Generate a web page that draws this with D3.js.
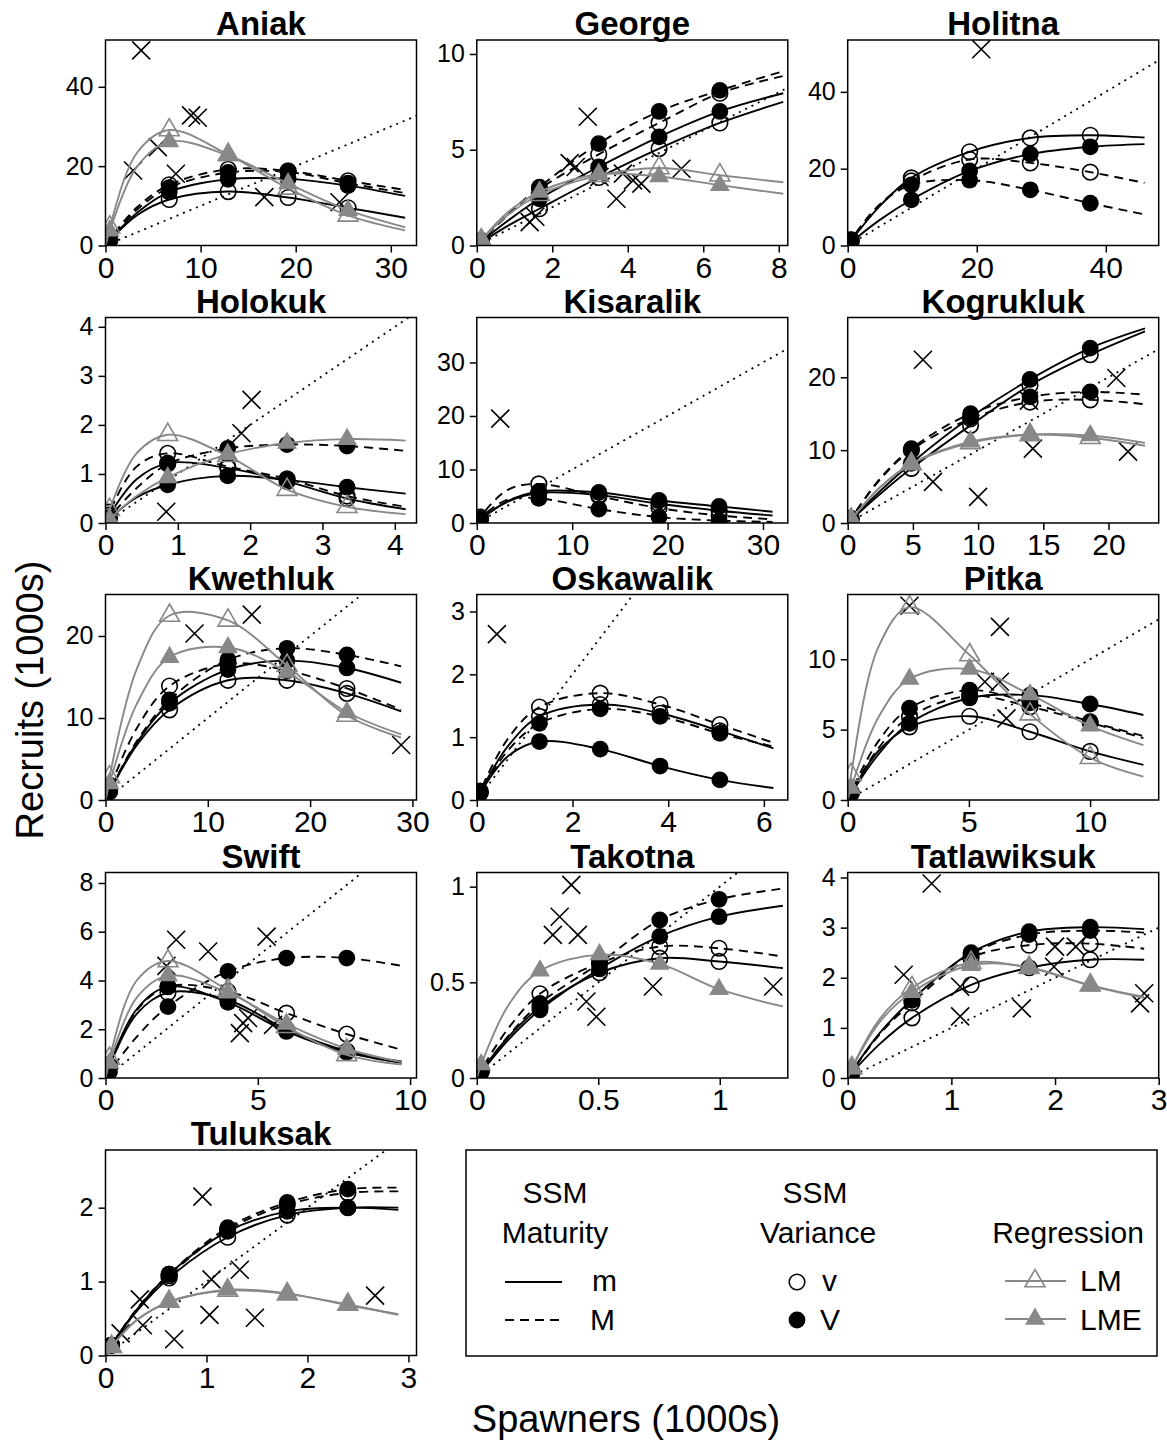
<!DOCTYPE html>
<html>
<head>
<meta charset="utf-8">
<script src="https://cdn.jsdelivr.net/npm/d3@7"></script>
<style>
  body { margin: 0; background: #fff; }
  text { font-family: "Liberation Sans", Arial, sans-serif; }
</style>
</head>
<body>
<div id="chart"></div>
<script>
// ---------- data ----------
const rivers = ["Aniak", "George", "Holitna", "Holokuk", "Kisaralik", "Kogrukluk", "Kwethluk",
  "Oskawalik", "Pitka", "Swift", "Takotna", "Tatlawiksuk", "Tuluksak"];

const xMax = [32.7, 8.24, 48.2, 4.3, 32.6, 23.85, 30.4, 6.5, 12.83, 10.21, 1.28, 3.0, 3.08];
const yMax = [51.8, 10.73, 53.5, 4.19, 38.4, 28.2, 25.06, 3.27, 14.6, 8.43, 1.074, 4.1, 2.78];

const xTicks = [[0, 10, 20, 30], [0, 2, 4, 6, 8], [0, 20, 40], [0, 1, 2, 3, 4], [0, 10, 20, 30],
  [0, 5, 10, 15, 20], [0, 10, 20, 30], [0, 2, 4, 6], [0, 5, 10], [0, 5, 10], [0, 0.5, 1],
  [0, 1, 2, 3], [0, 1, 2, 3]];
const yTicks = [[0, 20, 40], [0, 5, 10], [0, 20, 40], [0, 1, 2, 3, 4], [0, 10, 20, 30],
  [0, 10, 20], [0, 10, 20], [0, 1, 2, 3], [0, 5, 10], [0, 2, 4, 6, 8], [0, 0.5, 1],
  [0, 1, 2, 3, 4], [0, 1, 2]];

// spawner values at which the fitted curves were read
const spawners = [
  [0, 0.45, 3.35, 6.7, 12.9, 19.2, 25.5, 31.5],
  [0, 0.12, 0.83, 1.66, 3.23, 4.83, 6.44, 8.12],
  [0, 0.53, 4.93, 9.86, 18.9, 28.3, 37.6, 46],
  [0, 0.055, 0.43, 0.86, 1.69, 2.51, 3.34, 4.15],
  [0, 0.36, 3.25, 6.5, 12.8, 19.1, 25.4, 31.0],
  [0, 0.26, 2.44, 4.88, 9.42, 13.98, 18.6, 22.8],
  [0, 0.39, 3.13, 6.26, 11.97, 17.74, 23.6, 28.9],
  [0, 0.07, 0.655, 1.31, 2.58, 3.83, 5.08, 6.2],
  [0, 0.14, 1.275, 2.55, 5.03, 7.52, 10.0, 12.2],
  [0, 0.13, 1.025, 2.05, 4.02, 5.94, 7.92, 9.72],
  [0, 0.018, 0.13, 0.26, 0.505, 0.753, 0.997, 1.26],
  [0, 0.04, 0.31, 0.62, 1.19, 1.75, 2.34, 2.86],
  [0, 0.06, 0.31, 0.63, 1.21, 1.8, 2.4, 2.9]
];
// which of those spawner values carry a plotting symbol
const markerIdx = [1, 3, 4, 5, 6];

// SSM maturity m, variance v
const rec_m_v = [
  [0, 1.3, 7.7, 11.6, 13.6, 12.1, 9.5, 7.0],
  [0, 0.16, 1.04, 1.92, 3.55, 5.06, 6.4, 7.5],
  [0, 1.27, 10.2, 17.6, 24.4, 28.0, 28.7, 28.1],
  [0, 0.16, 0.89, 1.22, 1.12, 0.85, 0.5, 0.28],
  [0, 0.61, 4.0, 5.6, 5.2, 3.6, 2.3, 1.4],
  [0, 0.43, 3.9, 7.5, 13.4, 18.9, 23.1, 26.3],
  [0, 1.02, 6.8, 11.0, 14.6, 14.6, 13.0, 10.8],
  [0, 0.12, 0.86, 1.33, 1.52, 1.38, 1.1, 0.82],
  [0, 0.5, 3.5, 5.2, 5.95, 4.85, 3.45, 2.5],
  [0, 0.48, 2.63, 3.5, 3.2, 2.0, 1.1, 0.68],
  [0, 0.035, 0.215, 0.37, 0.55, 0.626, 0.609, 0.574],
  [0, 0.1, 0.68, 1.2, 1.86, 2.2, 2.36, 2.36],
  [0, 0.14, 0.6, 1.05, 1.6, 1.9, 2.0, 2.0]
];
// SSM maturity m, variance V
const rec_m_V = [
  [0, 1.34, 8.3, 13.5, 16.7, 16.8, 15.1, 12.5],
  [0, 0.2, 1.3, 2.44, 4.1, 5.67, 7.0, 7.95],
  [0, 0.8, 6.6, 11.9, 19.4, 23.8, 25.7, 26.4],
  [0, 0.085, 0.52, 0.78, 0.96, 0.88, 0.73, 0.6],
  [0, 0.6, 4.1, 5.9, 5.7, 4.2, 3.1, 2.1],
  [0, 0.47, 4.3, 8.2, 14.5, 19.7, 24.0, 26.7],
  [0, 1.04, 7.1, 11.8, 15.9, 17.0, 16.1, 14.3],
  [0, 0.11, 0.7, 0.93, 0.81, 0.54, 0.32, 0.19],
  [0, 0.43, 3.26, 5.45, 7.25, 7.45, 6.82, 6.04],
  [0, 0.51, 2.82, 3.75, 3.1, 1.91, 1.05, 0.62],
  [0, 0.03, 0.2, 0.356, 0.57, 0.74, 0.843, 0.9],
  [0, 0.13, 0.9, 1.56, 2.5, 2.92, 3.01, 2.97],
  [0, 0.14, 0.62, 1.1, 1.68, 1.95, 2.0, 1.97]
];
// SSM maturity M, variance v
const rec_M_v = [
  [0, 1.6, 9.7, 15.3, 19.2, 18.8, 16.3, 14.0],
  [0, 0.25, 1.6, 2.95, 4.76, 6.4, 7.95, 8.85],
  [0, 1.4, 10.5, 16.8, 22.4, 21.5, 19.1, 16.3],
  [0, 0.22, 1.15, 1.42, 1.15, 0.9, 0.55, 0.33],
  [0, 1.1, 6.2, 7.3, 5.0, 2.8, 1.4, 0.7],
  [0, 0.62, 5.9, 10.0, 14.3, 16.6, 16.9, 16.3],
  [0, 1.36, 8.9, 13.9, 16.6, 15.8, 13.6, 11.0],
  [0, 0.14, 0.98, 1.48, 1.7, 1.52, 1.2, 0.91],
  [0, 0.51, 3.7, 5.9, 7.4, 6.63, 5.5, 4.4],
  [0, 0.49, 2.77, 3.75, 3.55, 2.66, 1.8, 1.16],
  [0, 0.042, 0.26, 0.44, 0.6, 0.687, 0.678, 0.635],
  [0, 0.13, 0.88, 1.5, 2.4, 2.65, 2.68, 2.58],
  [0, 0.14, 0.62, 1.08, 1.7, 2.04, 2.2, 2.22]
];
// SSM maturity M, variance V
const rec_M_V = [
  [0, 1.5, 9.1, 14.6, 18.4, 18.5, 15.7, 13.2],
  [0, 0.26, 1.65, 3.05, 5.32, 7.0, 8.1, 9.1],
  [0, 1.5, 10.6, 15.8, 17.0, 14.5, 11.0, 8.1],
  [0, 0.11, 0.71, 1.2, 1.52, 1.6, 1.57, 1.47],
  [0, 0.87, 4.4, 4.6, 2.6, 1.1, 0.45, 0.2],
  [0, 0.63, 6.0, 10.2, 15.0, 17.3, 18.0, 17.6],
  [0, 1.07, 7.3, 12.2, 17.1, 18.5, 17.7, 16.3],
  [0, 0.11, 0.79, 1.22, 1.45, 1.33, 1.06, 0.85],
  [0, 0.58, 4.2, 6.52, 7.8, 6.9, 5.57, 4.55],
  [0, 0.25, 1.69, 2.93, 4.37, 4.92, 4.92, 4.6],
  [0, 0.033, 0.22, 0.39, 0.6, 0.826, 0.934, 0.99],
  [0, 0.13, 0.88, 1.55, 2.48, 2.86, 2.94, 2.9],
  [0, 0.14, 0.63, 1.1, 1.73, 2.07, 2.25, 2.27]
];
// regression fits (null = not shown for that river)
const rec_LM = [
  [0, 4.6, 23.5, 29.1, 22.9, 14.4, 7.6, 3.8],
  [0, 0.28, 1.6, 2.65, 3.65, 4.05, 3.67, 3.3],
  null,
  [0, 0.27, 1.42, 1.8, 1.37, 0.68, 0.33, 0.18],
  null,
  [0, 0.5, 4.8, 8.1, 11.0, 12.1, 11.7, 10.6],
  [0, 2.8, 16.2, 22.5, 21.9, 16.4, 10.3, 7.6],
  null,
  [0, 1.8, 10.9, 13.7, 10.3, 6.1, 3.0, 1.66],
  [0, 0.8, 4.0, 4.8, 3.6, 2.1, 0.95, 0.55],
  null,
  [0, 0.2, 1.18, 1.8, 2.3, 2.2, 1.85, 1.6],
  [0, 0.12, 0.48, 0.73, 0.88, 0.83, 0.69, 0.55]
];
const rec_LME = [
  [0, 3.7, 20.0, 26.2, 22.7, 15.6, 8.9, 4.6],
  [0, 0.3, 1.75, 2.8, 3.72, 3.6, 3.15, 2.7],
  null,
  [0, 0.08, 0.55, 0.93, 1.4, 1.63, 1.71, 1.68],
  null,
  [0, 0.5, 4.85, 8.15, 11.15, 12.15, 12.0, 11.0],
  [0, 2.0, 11.9, 17.4, 18.6, 15.6, 10.7, 8.0],
  null,
  [0, 0.86, 5.9, 8.6, 9.3, 7.5, 5.27, 3.9],
  [0, 0.62, 3.3, 4.2, 3.5, 2.22, 1.2, 0.65],
  [0, 0.07, 0.38, 0.56, 0.645, 0.596, 0.464, 0.374],
  [0, 0.19, 1.12, 1.71, 2.25, 2.21, 1.84, 1.62],
  [0, 0.12, 0.48, 0.72, 0.89, 0.84, 0.68, 0.56]
];

// observed spawner-recruit pairs (crosses)
const obsSpawners = [
  [3.75, 2.9, 5.5, 7.4, 9.0, 9.7, 16.7, 24.6],
  [2.94, 2.46, 2.62, 1.4, 1.55, 3.25, 3.7, 3.87, 4.14, 4.36, 5.42],
  [20.7],
  [2.02, 1.88, 0.84],
  [2.46],
  [5.77, 6.54, 10.0, 13.9, 14.2, 20.6, 21.5],
  [8.7, 14.3, 28.9],
  [0.42],
  [2.55, 6.28, 5.66, 6.28, 6.55],
  [2.32, 2.0, 3.37, 5.29, 4.52, 4.41, 4.68, 5.5],
  [0.389, 0.341, 0.313, 0.416, 0.451, 0.492, 0.725, 1.22],
  [0.81, 0.54, 1.085, 1.085, 1.68, 2.0, 1.99, 2.2, 2.86, 2.82],
  [0.15, 0.37, 0.34, 0.68, 0.96, 1.05, 1.03, 1.33, 1.48, 2.67]
];
const obsRecruits = [
  [49.2, 18.9, 24.8, 18.1, 32.8, 32.2, 12.2, 10.9],
  [6.72, 4.3, 4.1, 1.22, 1.5, 3.58, 2.44, 3.75, 3.4, 3.23, 4.01],
  [51.1],
  [2.51, 1.83, 0.23],
  [19.5],
  [22.4, 5.64, 3.58, 16.8, 10.2, 19.9, 9.8],
  [20.3, 22.6, 6.7],
  [2.64],
  [13.8, 12.3, 8.4, 8.4, 5.8],
  [5.67, 4.6, 5.19, 5.8, 2.25, 1.84, 2.46, 2.18],
  [1.009, 0.843, 0.748, 0.748, 0.4, 0.32, 0.478, 0.478],
  [3.88, 2.06, 1.82, 1.23, 1.39, 2.62, 2.22, 2.62, 1.69, 1.49],
  [0.3, 0.41, 0.76, 0.22, 2.15, 1.03, 0.55, 1.16, 0.51, 0.81]
];

// ---------- layout ----------
const colLeft = [105.5, 476.8, 847.7];
const rowTop = [40, 317.5, 594.5, 872.5, 1150];
const plotW = 311;
const plotH = 205.5;
const gray = '#888888';

// draw one plotting symbol, R style
function drawSymbol(g, type, cx, cy, color) {
  const R = 7.4;
  const tri = `M0,${-1.555 * R}L${1.347 * R},${0.778 * R}L${-1.347 * R},${0.778 * R}Z`;
  if (type === 'openCircle') {
    g.append('circle').attr('cx', cx).attr('cy', cy).attr('r', 7.8)
      .attr('fill', 'none').attr('stroke', color).attr('stroke-width', 1.6);
  } else if (type === 'filledCircle') {
    g.append('circle').attr('cx', cx).attr('cy', cy).attr('r', 8.4).attr('fill', color);
  } else if (type === 'openTri') {
    g.append('path').attr('d', tri).attr('transform', `translate(${cx},${cy})`)
      .attr('fill', 'none').attr('stroke', color).attr('stroke-width', 1.6);
  } else if (type === 'filledTri') {
    g.append('path').attr('d', tri).attr('transform', `translate(${cx},${cy})`)
      .attr('fill', color);
  } else if (type === 'cross') {
    g.append('path').attr('d', 'M-9,-9L9,9M-9,9L9,-9')
      .attr('transform', `translate(${cx},${cy})`)
      .attr('stroke', color).attr('stroke-width', 1.6).attr('fill', 'none');
  }
}

function smallMultiples() {
  const svg = d3.select('#chart').append('svg')
    .attr('width', 1167)
    .attr('height', 1444);

  svg.append('rect').attr('width', 1167).attr('height', 1444).attr('fill', 'white');

  const fits = [
    { rec: rec_m_v, color: 'black', dash: null, sym: 'openCircle' },
    { rec: rec_m_V, color: 'black', dash: null, sym: 'filledCircle' },
    { rec: rec_M_v, color: 'black', dash: '9,6', sym: 'openCircle' },
    { rec: rec_M_V, color: 'black', dash: '9,6', sym: 'filledCircle' },
    { rec: rec_LM, color: gray, dash: null, sym: 'openTri' },
    { rec: rec_LME, color: gray, dash: null, sym: 'filledTri' }
  ];

  rivers.forEach((river, i) => {
    const left = colLeft[i % 3];
    const top = rowTop[Math.floor(i / 3)];

    const x = d3.scaleLinear().domain([0, xMax[i]]).range([0, plotW]);
    const y = d3.scaleLinear().domain([0, yMax[i]]).range([plotH, 0]);

    const g = svg.append('g').attr('transform', `translate(${left},${top})`);

    g.append('clipPath').attr('id', `clip${i}`)
      .append('rect').attr('width', plotW).attr('height', plotH);

    // axes
    const yAxis = g.append('g')
      .call(d3.axisLeft(y).tickValues(yTicks[i]).tickSize(7).tickPadding(5).tickFormat(d => d));
    const xAxis = g.append('g').attr('transform', `translate(0,${plotH})`)
      .call(d3.axisBottom(x).tickValues(xTicks[i]).tickSize(7).tickPadding(4).tickFormat(d => d));
    [yAxis, xAxis].forEach(a => {
      a.select('.domain').remove();
      a.selectAll('.tick line').attr('stroke', 'black').attr('stroke-width', 1.5);
      a.selectAll('.tick text').attr('fill', 'black');
    });
    yAxis.selectAll('.tick text').style('font-size', '25px');
    xAxis.selectAll('.tick text').style('font-size', '30px');

    // panel title
    g.append('text')
      .attr('x', plotW / 2)
      .attr('y', -5)
      .attr('text-anchor', 'middle')
      .style('font-size', '33px')
      .style('font-weight', 'bold')
      .text(river);

    const inner = g.append('g').attr('clip-path', `url(#clip${i})`);

    // replacement line
    const lim = Math.max(xMax[i], yMax[i]);
    inner.append('line')
      .attr('x1', x(0)).attr('y1', y(0))
      .attr('x2', x(lim)).attr('y2', y(lim))
      .attr('stroke', 'black').attr('stroke-width', 1.8)
      .attr('stroke-dasharray', '2,5');

    // observations
    obsSpawners[i].forEach((s, k) => {
      drawSymbol(inner, 'cross', x(s), y(obsRecruits[i][k]), 'black');
    });

    // fitted curves and their symbols
    const line = d3.line()
      .x(d => x(d[0]))
      .y(d => y(d[1]))
      .curve(d3.curveCatmullRom.alpha(0.5));

    fits.forEach(f => {
      const rec = f.rec[i];
      if (!rec) return;
      const pts = spawners[i].map((s, k) => [s, rec[k]]);
      inner.append('path')
        .attr('d', line(pts))
        .attr('fill', 'none')
        .attr('stroke', f.color)
        .attr('stroke-width', 1.9)
        .attr('stroke-dasharray', f.dash);
      markerIdx.forEach(k => drawSymbol(inner, f.sym, x(pts[k][0]), y(pts[k][1]), f.color));
    });

    // box
    g.append('rect')
      .attr('width', plotW).attr('height', plotH)
      .attr('fill', 'none').attr('stroke', 'black').attr('stroke-width', 1.5);
  });

  // axis titles
  svg.append('text')
    .attr('transform', 'translate(43,700) rotate(-90)')
    .attr('text-anchor', 'middle')
    .style('font-size', '38px')
    .text('Recruits (1000s)');

  svg.append('text')
    .attr('x', 626).attr('y', 1432)
    .attr('text-anchor', 'middle')
    .style('font-size', '38px')
    .text('Spawners (1000s)');

  // ---------- legend ----------
  const lg = svg.append('g');
  lg.append('rect')
    .attr('x', 466).attr('y', 1150).attr('width', 691).attr('height', 206)
    .attr('fill', 'white').attr('stroke', 'black').attr('stroke-width', 1.5);

  const legendText = (tx, ty, label, anchor) => lg.append('text')
    .attr('x', tx).attr('y', ty)
    .attr('text-anchor', anchor)
    .attr('dominant-baseline', 'central')
    .style('font-size', '30px')
    .text(label);

  legendText(555, 1192, 'SSM', 'middle');
  legendText(555, 1232, 'Maturity', 'middle');
  legendText(815, 1192, 'SSM', 'middle');
  legendText(818, 1232, 'Variance', 'middle');
  legendText(1068, 1232, 'Regression', 'middle');

  lg.append('line').attr('x1', 505).attr('x2', 562).attr('y1', 1282).attr('y2', 1282)
    .attr('stroke', 'black').attr('stroke-width', 1.9);
  legendText(592, 1280, 'm', 'start');
  lg.append('line').attr('x1', 505).attr('x2', 562).attr('y1', 1320).attr('y2', 1320)
    .attr('stroke', 'black').attr('stroke-width', 1.9).attr('stroke-dasharray', '9,6');
  legendText(590, 1319, 'M', 'start');

  drawSymbol(lg, 'openCircle', 797, 1282, 'black');
  legendText(822, 1280, 'v', 'start');
  drawSymbol(lg, 'filledCircle', 797, 1320, 'black');
  legendText(820, 1319, 'V', 'start');

  lg.append('line').attr('x1', 1005).attr('x2', 1066).attr('y1', 1281).attr('y2', 1281)
    .attr('stroke', gray).attr('stroke-width', 1.9);
  drawSymbol(lg, 'openTri', 1035, 1281, gray);
  legendText(1080, 1280, 'LM', 'start');
  lg.append('line').attr('x1', 1005).attr('x2', 1066).attr('y1', 1319).attr('y2', 1319)
    .attr('stroke', gray).attr('stroke-width', 1.9);
  drawSymbol(lg, 'filledTri', 1035, 1319, gray);
  legendText(1080, 1319, 'LME', 'start');
}

function init() {
  smallMultiples();
}

window.onload = init;
</script>
</body>
</html>
